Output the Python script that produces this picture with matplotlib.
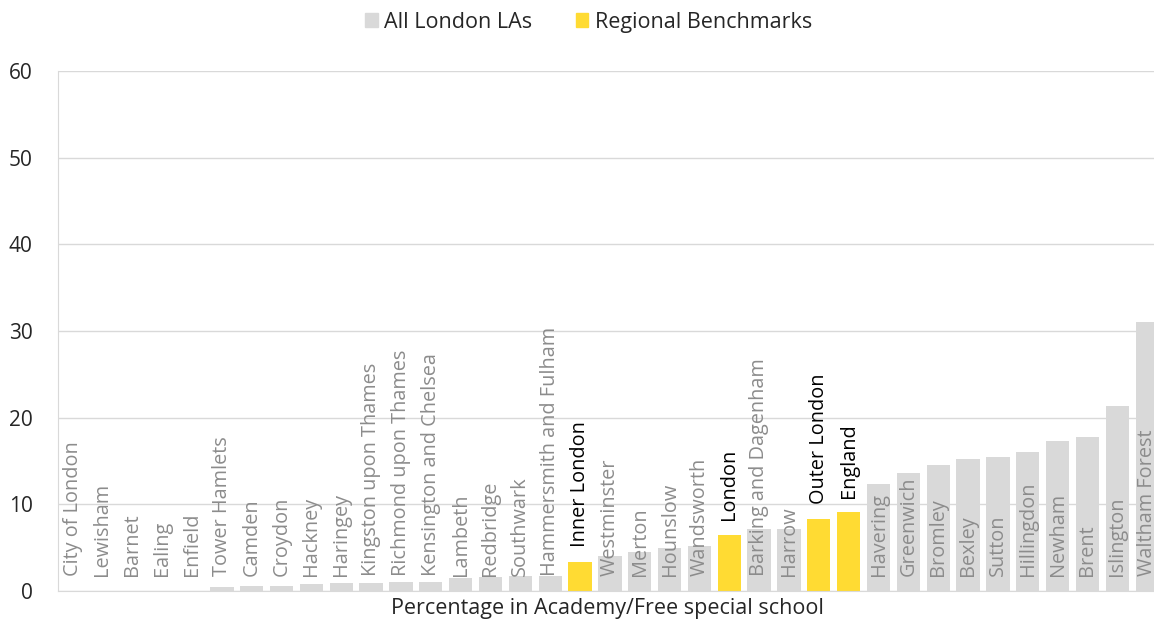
import matplotlib
matplotlib.use('Agg')
import matplotlib.pyplot as plt
from matplotlib.patches import Patch

plt.rcParams['font.family'] = ['Open Sans', 'DejaVu Sans']

names = ['City of London', 'Lewisham', 'Barnet', 'Ealing', 'Enfield', 'Tower Hamlets',
         'Camden', 'Croydon', 'Hackney', 'Haringey', 'Kingston upon Thames',
         'Richmond upon Thames', 'Kensington and Chelsea', 'Lambeth', 'Redbridge',
         'Southwark', 'Hammersmith and Fulham', 'Inner London', 'Westminster', 'Merton',
         'Hounslow', 'Wandsworth', 'London', 'Barking and Dagenham', 'Harrow',
         'Outer London', 'England', 'Havering', 'Greenwich', 'Bromley', 'Bexley', 'Sutton',
         'Hillingdon', 'Newham', 'Brent', 'Islington', 'Waltham Forest']
values = [0, 0, 0, 0, 0, 0.46, 0.6, 0.6, 0.77, 0.88, 0.88, 1.0, 1.04, 1.5, 1.6, 1.77,
          1.77, 3.35, 4.04, 4.46, 4.92, 5.19, 6.46, 7.19, 7.15, 8.3, 9.1, 12.3, 13.6,
          14.5, 15.2, 15.5, 16.0, 17.3, 17.8, 21.3, 31.0]
benchmarks = ['Inner London', 'London', 'Outer London', 'England']

grey = '#d9d9d9'
yellow = '#ffdb33'
grid_c = '#d9d9d9'

fig = plt.figure(figsize=(11.54, 6.24), dpi=100)
# plot area runs a little past the right edge, as in the original
ax = fig.add_axes([0.050, 0.053, 0.957, 0.833])

x = range(len(names))
cols = [yellow if n in benchmarks else grey for n in names]
ax.bar(x, values, width=0.78, color=cols, zorder=2)

for i, (n, v) in enumerate(zip(names, values)):
    if n in benchmarks:
        ax.annotate(n, (i, v), xytext=(0, 10.5), textcoords='offset points',
                    rotation=90, ha='center', va='bottom', fontsize=14.3,
                    color='black', zorder=3)
    else:
        ax.annotate(n, (i, 0), xytext=(0, 11), textcoords='offset points',
                    rotation=90, ha='center', va='bottom', fontsize=14.3,
                    color='#8c8c8c', zorder=3)

ax.set_xlim(-0.5, len(names) - 0.5)
ax.set_ylim(0, 60)
ax.set_yticks(range(0, 61, 10))
ax.set_xticks([])
ax.tick_params(axis='y', length=0, labelsize=15, pad=18, colors='#262626')
ax.grid(axis='y', color=grid_c, linewidth=1, zorder=0)
for s in ['top', 'right']:
    ax.spines[s].set_visible(False)
for s in ['left', 'bottom']:
    ax.spines[s].set_color(grid_c)
ax.set_xlabel('Percentage in Academy/Free special school', fontsize=15.5,
              color='#262626', labelpad=5)
ax.xaxis.label.set_x((608 - 58) / (1154 * 0.957))

handles = [Patch(color=grey, label='All London LAs'),
           Patch(color=yellow, label='Regional Benchmarks')]
fig.legend(handles=handles, loc='upper center', bbox_to_anchor=(0.51, 1.012), ncol=2,
           frameon=False, fontsize=15.5, handlelength=0.6, handleheight=0.6,
           handletextpad=0.3, columnspacing=2.0, labelcolor='#262626')

fig.savefig('out.png', dpi=100)
